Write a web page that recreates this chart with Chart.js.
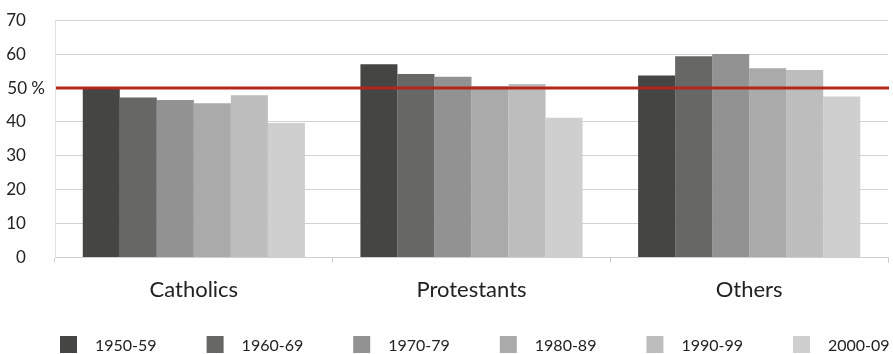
<!DOCTYPE html>
<html>
<head>
<meta charset="utf-8">
<script src="https://cdn.jsdelivr.net/npm/chart.js@4/dist/chart.umd.min.js"></script>
<style>
  html, body { margin: 0; padding: 0; background: #fff; }
  #wrap { width: 893px; height: 354px; }
</style>
</head>
<body>
<div id="wrap"><canvas id="c"></canvas></div>
<script>
// Groups along the x axis
const categories = ['Catholics', 'Protestants', 'Others'];

// Decades shown as separate bars within each group
const decades = ['1950-59', '1960-69', '1970-79', '1980-89', '1990-99', '2000-09'];

// Share (%) per decade, one array per decade, in category order
const values1950 = [50.0, 57.0, 53.7];
const values1960 = [47.2, 54.1, 59.4];
const values1970 = [46.5, 53.3, 60.0];
const values1980 = [45.5, 50.5, 55.8];
const values1990 = [47.9, 51.2, 55.3];
const values2000 = [39.7, 41.2, 47.5];

// Y axis tick values
const yTicks = [0, 10, 20, 30, 40, 50, 60, 70];

// Reference level marked with a horizontal line
const referenceLevel = 50;

const seriesValues = [values1950, values1960, values1970, values1980, values1990, values2000];
const barColors = ['#454543', '#676766', '#929292', '#a9aaa9', '#bcbdbc', '#cfcfcf'];

// Horizontal line across the plot at the reference level
const referenceLine = {
  id: 'referenceLine',
  afterDatasetsDraw(chart) {
    const { ctx, chartArea, scales } = chart;
    const y = scales.y.getPixelForValue(referenceLevel);
    ctx.save();
    ctx.strokeStyle = '#b3261a';
    ctx.lineWidth = 3;
    ctx.beginPath();
    ctx.moveTo(chartArea.left + 1, y);
    ctx.lineTo(chartArea.right + 1, y);
    ctx.stroke();
    ctx.restore();
  }
};

// Legend row spread evenly along the bottom edge
const spreadLegend = {
  id: 'spreadLegend',
  afterDraw(chart) {
    const { ctx } = chart;
    const items = chart.data.datasets;
    const startX = 60, step = 146.6, centerY = 344.5, box = 17, gap = 18;
    ctx.save();
    ctx.font = '16px Lato';
    ctx.textBaseline = 'middle';
    ctx.textAlign = 'left';
    items.forEach((ds, i) => {
      const x = startX + i * step;
      ctx.fillStyle = ds.backgroundColor;
      ctx.fillRect(x, centerY - box / 2, box, box);
      ctx.fillStyle = '#222';
      ctx.fillText(ds.label, x + box + gap, centerY + 1);
    });
    ctx.restore();
  }
};

new Chart(document.getElementById('c'), {
  type: 'bar',
  data: {
    labels: categories,
    datasets: decades.map((d, i) => ({
      label: d,
      data: seriesValues[i],
      backgroundColor: barColors[i],
      borderWidth: 0,
      categoryPercentage: 0.8,
      barPercentage: 1.0
    }))
  },
  options: {
    responsive: true,
    maintainAspectRatio: false,
    animation: false,
    layout: { padding: { top: 10, right: 5, left: 0, bottom: 37 } },
    plugins: {
      legend: { display: false },
      tooltip: { enabled: false }
    },
    scales: {
      x: {
        grid: {
          display: true,
          offset: true,
          drawOnChartArea: false,
          drawTicks: true,
          tickLength: 5,
          color: '#cfcfcf'
        },
        border: { display: true, color: '#cfcfcf', width: 1 },
        ticks: {
          color: '#222',
          padding: 14,
          font: { family: 'Lato', size: 22 }
        }
      },
      y: {
        min: 0,
        max: 70,
        afterBuildTicks(scale) {
          scale.ticks = yTicks.map(v => ({ value: v }));
        },
        afterFit(scale) { scale.width = 55; },
        grid: {
          color: '#d2d2d2',
          lineWidth: 1,
          drawTicks: false
        },
        border: { display: true, color: '#e2e2e2' },
        ticks: {
          autoSkip: false,
          color: '#222',
          padding: 10,
          font: { family: 'Lato', size: 17 },
          callback: v => (v === referenceLevel ? v + ' %' : v + '\u2002\u2002\u2009')
        }
      }
    }
  },
  plugins: [referenceLine, spreadLegend]
});
</script>
</body>
</html>
